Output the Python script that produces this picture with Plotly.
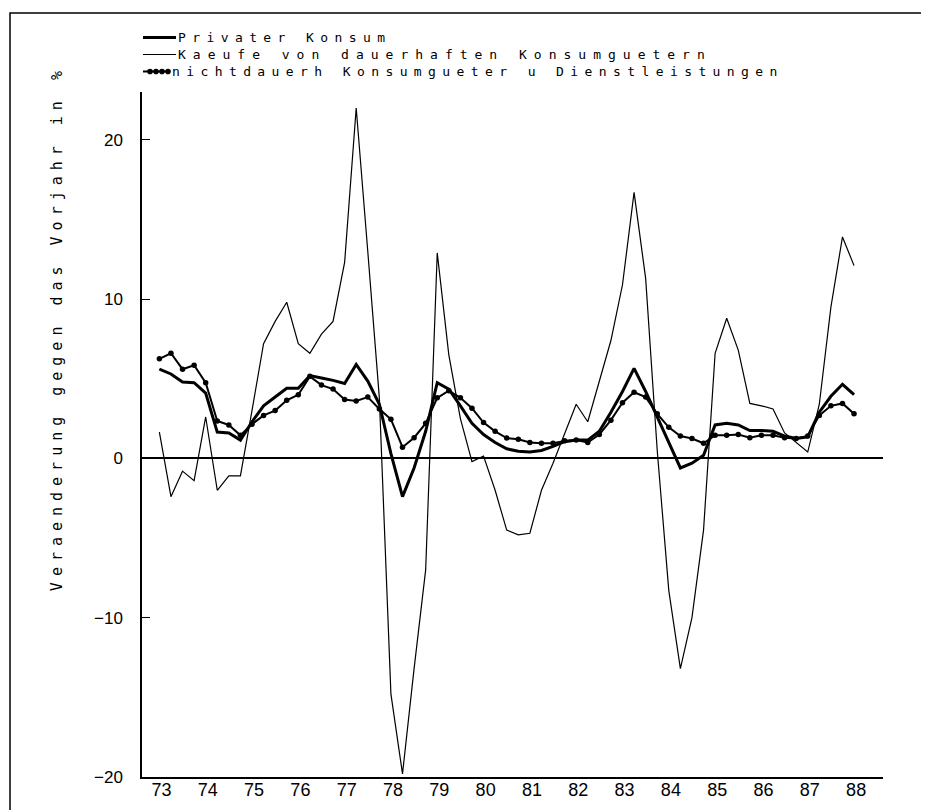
import plotly.graph_objects as go

# ---------------- data (quarterly, 1973 Q2 .. 1988 Q2) ----------------
first_year = 1973
first_quarter = 2
year_labels = ["73", "74", "75", "76", "77", "78", "79", "80",
               "81", "82", "83", "84", "85", "86", "87", "88"]

privater_konsum = [
    5.6, 5.3, 4.8, 4.75, 4.1, 1.65, 1.6, 1.15, 2.3, 3.3,
    3.85, 4.4, 4.4, 5.2, 5.05, 4.9, 4.7, 5.9, 4.85, 3.4,
    0.3, -2.4, -0.6, 1.7, 4.75, 4.35, 3.3, 2.2, 1.5, 1.0,
    0.6, 0.45, 0.4, 0.5, 0.75, 1.05, 1.15, 1.15, 1.7, 2.9,
    4.2, 5.65, 4.2, 2.6, 1.0, -0.6, -0.3, 0.2, 2.1, 2.2,
    2.1, 1.75, 1.75, 1.7, 1.4, 1.25, 1.35, 2.9, 3.9, 4.65,
    4.0]

dauerhafte_gueter = [
    1.65, -2.4, -0.8, -1.4, 2.6, -2.0, -1.1, -1.1, 3.0, 7.2,
    8.6, 9.8, 7.2, 6.6, 7.8, 8.6, 12.3, 22.0, 13.0, 3.8,
    -14.8, -19.8, -13.2, -7.0, 12.9, 6.5, 2.5, -0.2, 0.15, -2.0,
    -4.5, -4.8, -4.7, -2.0, -0.3, 1.6, 3.4, 2.3, 4.8, 7.4,
    10.9, 16.7, 11.3, 0.5, -8.3, -13.2, -10.0, -4.5, 6.6, 8.8,
    6.8, 3.45, 3.3, 3.1, 1.6, 1.0, 0.4, 3.4, 9.5, 13.9,
    12.1]

nichtdauerhafte = [
    6.25, 6.6, 5.6, 5.85, 4.75, 2.35, 2.1, 1.45, 2.15, 2.7,
    3.0, 3.65, 4.0, 5.15, 4.6, 4.35, 3.7, 3.6, 3.85, 3.1,
    2.45, 0.7, 1.3, 2.2, 3.8, 4.25, 3.8, 3.15, 2.25, 1.7,
    1.28, 1.2, 1.0, 0.95, 0.95, 1.1, 1.15, 1.0, 1.5, 2.4,
    3.5, 4.15, 3.85, 2.8, 1.95, 1.4, 1.25, 0.95, 1.45, 1.45,
    1.5, 1.3, 1.45, 1.45, 1.3, 1.25, 1.4, 2.7, 3.3, 3.45,
    2.8]

series_names = ["Privater Konsum",
                "Kaeufe von dauerhaften Konsumguetern",
                "nichtdauerh Konsumgueter u Dienstleistungen"]
y_title = "Veraenderung gegen das Vorjahr in %"

# x position of each quarter (centre of the quarter, in years)
n = len(privater_konsum)
x = [first_year + (first_quarter - 1 + i) / 4 + 0.125 for i in range(n)]

# ---------------- geometry helpers ----------------
# the page body has an 8px margin, so the figure is drawn 8px smaller
OFF = 8
W, H = 929 - OFF, 810 - OFF
L, T = 142 - OFF, 92 - OFF
PLOT_RIGHT, PLOT_BOTTOM = 883 - OFF, 776.6 - OFF
R, B = W - PLOT_RIGHT, H - PLOT_BOTTOM
PW, PH = W - L - R, H - T - B


def px2x(page_px):
    return (page_px - OFF - L) / PW


def px2y(page_py):
    return (H - B - (page_py - OFF)) / PH


SP_FONT = "DejaVu Sans Mono, Liberation Mono, monospace"


def spaced(t, s):
    return f'<span style="letter-spacing:{s}px">{t}</span>'


fig = go.Figure()
fig.add_trace(go.Scatter(x=x, y=dauerhafte_gueter, mode="lines", name=series_names[1],
                         line=dict(color="black", width=1.2), showlegend=False))
fig.add_trace(go.Scatter(x=x, y=nichtdauerhafte, mode="lines+markers", name=series_names[2],
                         line=dict(color="black", width=2),
                         marker=dict(color="black", size=5.5), showlegend=False))
fig.add_trace(go.Scatter(x=x, y=privater_konsum, mode="lines", name=series_names[0],
                         line=dict(color="black", width=3), showlegend=False))

years = list(range(first_year, first_year + len(year_labels) + 1))
quarter_ticks = [yr + q / 4 for yr in years[:-1] for q in (1, 2, 3)]

fig.update_layout(
    width=W, height=H,
    margin=dict(l=L, r=R, t=T, b=B, pad=0, autoexpand=False),
    paper_bgcolor="white", plot_bgcolor="white",
    xaxis=dict(range=[years[0], years[-1]], tickmode="array",
               tickvals=[yr + 0.42 for yr in years[:-1]], ticktext=year_labels,
               ticks="", showgrid=False, zeroline=False,
               showline=True, linecolor="black", linewidth=2,
               tickfont=dict(family="Liberation Sans Narrow, Liberation Sans", size=18, color="black"),
               ticklabelstandoff=-5),
    xaxis2=dict(range=[years[0], years[-1]], overlaying="x", anchor="y", side="bottom",
                tickmode="array", tickvals=years[1:-1], ticks="inside", ticklen=11,
                tickwidth=1.3, tickcolor="black", showticklabels=False,
                showgrid=False, zeroline=False, showline=False,
                minor=dict(tickmode="array", tickvals=quarter_ticks, ticks="inside",
                           ticklen=5, tickwidth=1.1, tickcolor="black", showgrid=False)),
    yaxis=dict(range=[-20, 23], tickmode="array", tickvals=[-20, -10, 0, 10, 20],
               ticks="inside", ticklen=8, tickwidth=1.3, tickcolor="black",
               showgrid=False, zeroline=True, zerolinecolor="black", zerolinewidth=1.6,
               showline=True, linecolor="black", linewidth=1.5,
               tickfont=dict(family="Liberation Sans", size=17, color="black"),
               ticklabelstandoff=14),
    showlegend=False,
)

# frame around the whole figure
fig.add_shape(type="rect", xref="paper", yref="paper",
              x0=px2x(10), x1=px2x(927), y0=px2y(830), y1=px2y(13),
              line=dict(color="black", width=1.5))

# y axis title
fig.add_annotation(text=spaced(y_title, 6.0), xref="paper", yref="paper",
                   x=px2x(57), y=px2y(328), textangle=-90, showarrow=False,
                   xanchor="center", yanchor="middle", borderpad=0,
                   font=dict(family=SP_FONT, size=15, color="black"))

# legend (drawn by hand to reproduce the plotter layout)
rows = [37.5, 54.5, 71.5]
letter_gaps = [6.4, 7.0, 6.4]
for i, (name, ry) in enumerate(zip(series_names, rows)):
    tx = 171 if i == 2 else 177
    fig.add_annotation(text=spaced(name, letter_gaps[i]), xref="paper", yref="paper",
                       x=px2x(tx), y=px2y(ry), showarrow=False,
                       xanchor="left", yanchor="middle", borderpad=0,
                       font=dict(family=SP_FONT, size=13, color="black"))
fig.add_shape(type="line", xref="paper", yref="paper", x0=px2x(143), x1=px2x(176),
              y0=px2y(rows[0]), y1=px2y(rows[0]), line=dict(color="black", width=3))
fig.add_shape(type="line", xref="paper", yref="paper", x0=px2x(143), x1=px2x(176),
              y0=px2y(rows[1]), y1=px2y(rows[1]), line=dict(color="black", width=1.2))
fig.add_shape(type="line", xref="paper", yref="paper", x0=px2x(143), x1=px2x(170),
              y0=px2y(rows[2]), y1=px2y(rows[2]), line=dict(color="black", width=2))
for cx in (150, 156, 162, 168):
    r = 2.8
    fig.add_shape(type="circle", xref="paper", yref="paper",
                  x0=px2x(cx - r), x1=px2x(cx + r),
                  y0=px2y(rows[2] + r), y1=px2y(rows[2] - r),
                  fillcolor="black", line=dict(color="black", width=0))

fig.write_html("out.html")
